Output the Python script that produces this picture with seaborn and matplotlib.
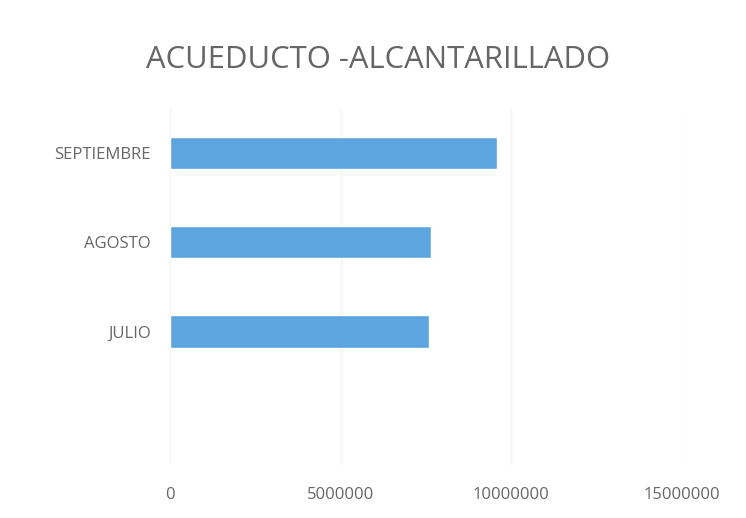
import matplotlib
matplotlib.use("Agg")
import matplotlib.pyplot as plt
import seaborn as sns
import pandas as pd

# --- Дані ---
meses = ["SEPTIEMBRE", "AGOSTO", "JULIO"]
valores = [9570000, 7660000, 7590000]
ticks_x = [0, 5000000, 10000000, 15000000]

df = pd.DataFrame({"mes": meses, "valor": valores})

sns.set_theme(style="white")
plt.rcParams["font.family"] = ["Open Sans", "DejaVu Sans"]

fig = plt.figure(figsize=(7.46, 5.18), dpi=100)
ax = fig.add_axes([0.228, 0.102, 0.686, 0.688])

sns.barplot(data=df, x="valor", y="mes", orient="h", color="#5DA5DF",
            saturation=1, width=0.36, ax=ax)

# порожній четвертий слот знизу, як в оригіналі
ax.set_ylim(3.5, -0.5)
ax.set_xlim(0, 15000000)
ax.set_xticks(ticks_x)
ax.set_xticklabels([str(t) for t in ticks_x])

ax.grid(axis="x", color="#F3F3F3", linewidth=1)
ax.set_axisbelow(True)
for s in ax.spines.values():
    s.set_visible(False)
ax.tick_params(axis="both", length=0, colors="#666666", labelsize=12)
ax.tick_params(axis="x", pad=16)
ax.tick_params(axis="y", pad=14)
ax.set_xlabel("")
ax.set_ylabel("")

fig.text(0.507, 0.884, "ACUEDUCTO -ALCANTARILLADO", ha="center", va="center",
         fontsize=22.3, color="#666666")

fig.savefig("out.png", dpi=100)
